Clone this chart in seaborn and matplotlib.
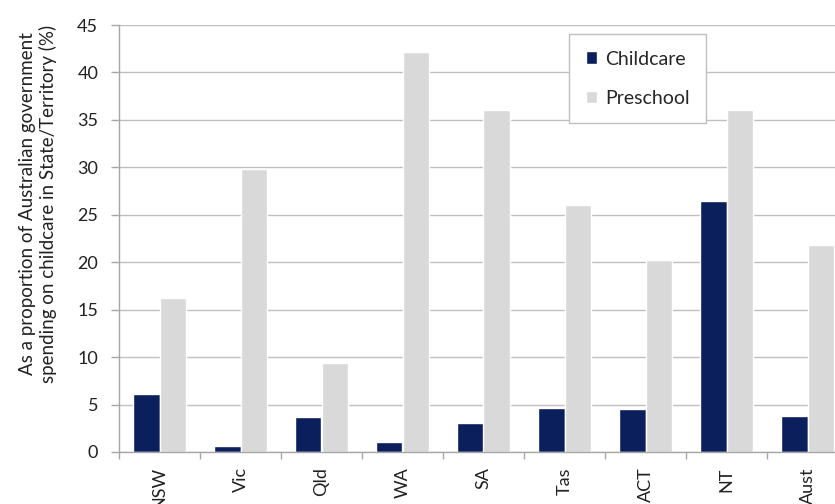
import matplotlib
matplotlib.use("Agg")
import matplotlib.pyplot as plt
import seaborn as sns
import pandas as pd
import numpy as np

# Share of Australian government childcare spending, by State/Territory
states = ["NSW", "Vic", "Qld", "WA", "SA", "Tas", "ACT", "NT", "Aust"]
childcare = [6.1, 0.6, 3.7, 1.1, 3.1, 4.6, 4.5, 26.5, 3.8]
preschool = [16.2, 29.8, 9.4, 42.2, 36.0, 26.0, 20.2, 36.0, 21.8]
series = ["Childcare", "Preschool"]
y_ticks = [0, 5, 10, 15, 20, 25, 30, 35, 40, 45]

df = pd.DataFrame({
    "state": states * 2,
    "value": childcare + preschool,
    "series": [series[0]] * len(states) + [series[1]] * len(states),
})

sns.set_theme(style="white")
plt.rcParams["font.family"] = ["Lato", "DejaVu Sans"]

fig = plt.figure(figsize=(8.35, 5.04), dpi=100)
# axes run past the right edge of the canvas, so the last group is cut
ax = fig.add_axes([119 / 835, 52 / 504, 729 / 835, 427 / 504])

sns.barplot(
    data=df, x="state", y="value", hue="series", order=states,
    hue_order=series, palette=["#0A1F5C", "#D9D9D9"], width=0.65,
    saturation=1, ax=ax, legend=True,
)

ax.set_ylim(0, 45)
ax.set_xlim(-0.5, len(states) - 0.5)
ax.set_yticks(y_ticks)
ax.yaxis.grid(True, color="#BFBFBF", linewidth=1)
ax.set_axisbelow(True)
ax.set_xlabel("")
ax.set_ylabel("As a proportion of Australian government\nspending on childcare in State/Territory (%)",
              fontsize=13.5, color="#222222", linespacing=1.2)
ax.yaxis.set_label_coords((57 - 119) / 729, (452 - 204) / 427)

for side in ["top", "right"]:
    ax.spines[side].set_visible(False)
for side in ["left", "bottom"]:
    ax.spines[side].set_color("#A6A6A6")
    ax.spines[side].set_linewidth(1)

ax.tick_params(axis="y", labelsize=13, colors="#A6A6A6", labelcolor="#222222",
               length=6, width=1, left=True, direction="out", pad=9)
ax.set_xticks(range(len(states)))
ax.set_xticklabels(states, rotation=90, fontsize=13, color="#222222")
ax.tick_params(axis="x", which="major", length=0, pad=11)
ax.set_xticks(np.arange(-0.5, len(states), 1.0), minor=True)
ax.tick_params(axis="x", which="minor", length=5, width=1, color="#A6A6A6",
               bottom=True, direction="out")

leg = ax.legend(
    loc="upper left", bbox_to_anchor=(450 / 729, (452 - 34) / 427), fontsize=14,
    frameon=True, fancybox=False, edgecolor="#BFBFBF", framealpha=1,
    handlelength=0.6, handleheight=0.6, handletextpad=0.4,
    labelspacing=1.15, borderpad=0.85, borderaxespad=0,
)
leg.get_frame().set_linewidth(1)

fig.savefig("out.png", dpi=100)
